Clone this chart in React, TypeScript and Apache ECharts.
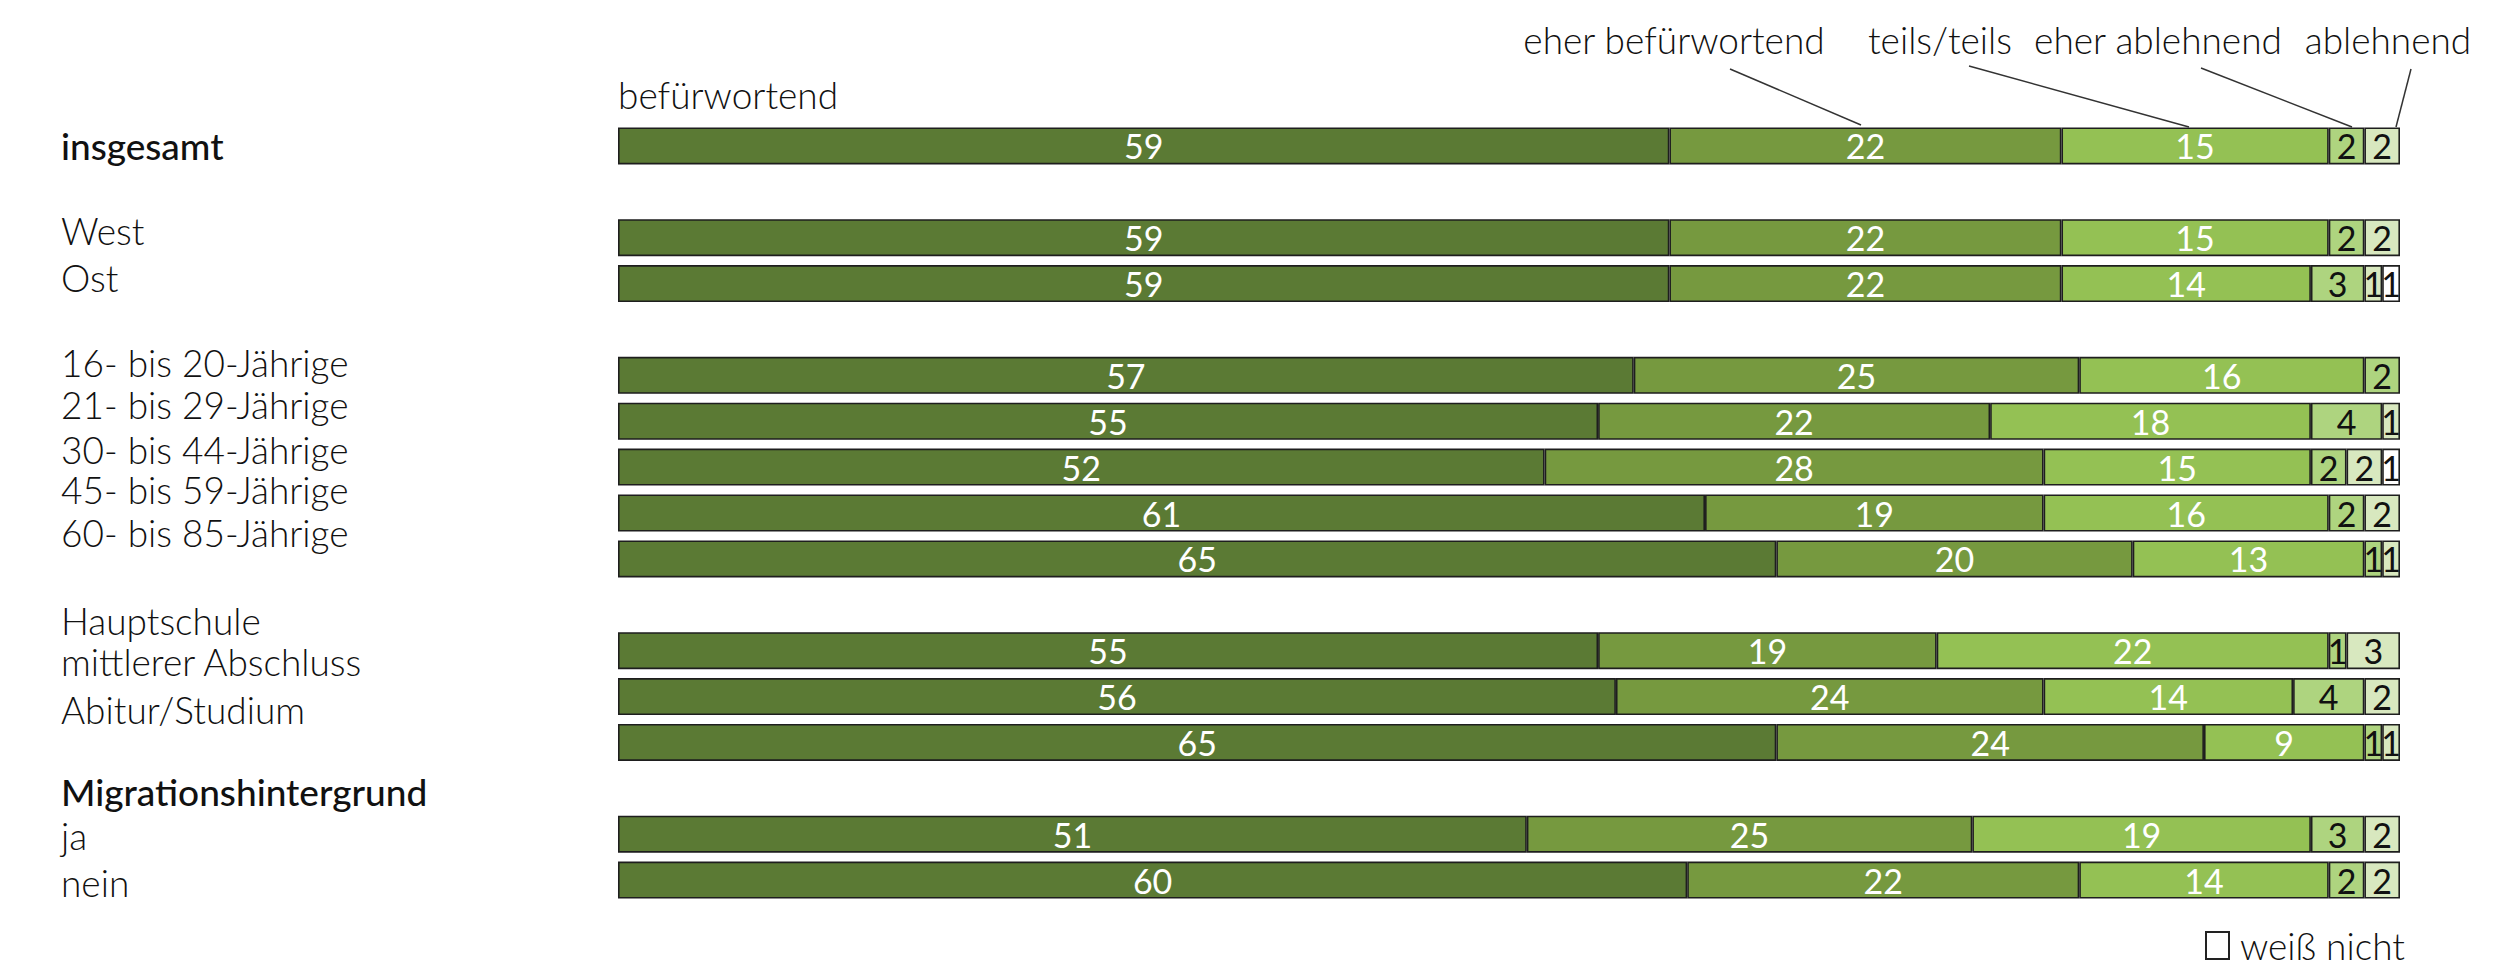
import React, { useEffect, useRef } from "react";
import * as echarts from "echarts";

// Row groups (a blank row separates each group)
const categories = [
  "insgesamt",
  "West", "Ost",
  "16- bis 20-Jährige", "21- bis 29-Jährige", "30- bis 44-Jährige", "45- bis 59-Jährige", "60- bis 85-Jährige",
  "Hauptschule", "mittlerer Abschluss", "Abitur/Studium",
  "ja", "nein",
];
const groupSizes = [1, 2, 5, 3, 2];

const seriesNames = ["befürwortend", "eher befürwortend", "teils/teils", "eher ablehnend", "ablehnend", "weiß nicht"];
const befuerwortend = [59, 59, 59, 57, 55, 52, 61, 65, 55, 56, 65, 51, 60];
const eherBefuerwortend = [22, 22, 22, 25, 22, 28, 19, 20, 19, 24, 24, 25, 22];
const teilsTeils = [15, 15, 14, 16, 18, 15, 16, 13, 22, 14, 9, 19, 14];
const eherAblehnend = [2, 2, 3, 2, 4, 2, 2, 1, 1, 4, 1, 3, 2];
const ablehnend = [2, 2, 1, 0, 1, 2, 2, 1, 3, 2, 1, 2, 2];
const weissNicht = [0, 0, 1, 0, 0, 1, 0, 0, 0, 0, 0, 0, 0];

// Text column on the left (set as a separate block)
const sideLabels = [
  { text: "insgesamt", bold: true },
  { text: "West", bold: false },
  { text: "Ost", bold: false },
  { text: "16- bis 20-Jährige", bold: false },
  { text: "21- bis 29-Jährige", bold: false },
  { text: "30- bis 44-Jährige", bold: false },
  { text: "45- bis 59-Jährige", bold: false },
  { text: "60- bis 85-Jährige", bold: false },
  { text: "Hauptschule", bold: false },
  { text: "mittlerer Abschluss", bold: false },
  { text: "Abitur/Studium", bold: false },
  { text: "Migrationshintergrund", bold: true },
  { text: "ja", bold: false },
  { text: "nein", bold: false },
];
const sideLabelY = [145, 230, 277, 362, 404, 449, 489, 532, 620, 661, 709, 791, 835, 882];

// Headers above the first bar with leader lines
const headerLabels = ["eher befürwortend", "teils/teils", "eher ablehnend", "ablehnend"];
const headerLayout = [
  { cx: 1674, line: [1730, 69, 1861, 125] },
  { cx: 1940, line: [1969, 66, 2189, 127] },
  { cx: 2158, line: [2201, 68, 2352, 127] },
  { cx: 2388, line: [2411, 69, 2396, 127] },
];

const colors = ["#5b7a34", "#76993f", "#94c154", "#aed47f", "#d8e8bf", "#ffffff"];
const labelColors = ["#ffffff", "#ffffff", "#ffffff", "#111111", "#111111", "#111111"];

const FONT = "Lato, 'Open Sans', sans-serif";

function withGaps(values: any[], blank: any) {
  const out: any[] = [];
  let i = 0;
  groupSizes.forEach((size, g) => {
    if (g > 0) out.push(blank);
    for (let k = 0; k < size; k++) out.push(values[i++]);
  });
  return out;
}

export default function App() {
  const ref = useRef<HTMLDivElement>(null);

  useEffect(() => {
    if (!ref.current) return;
    const chart = echarts.init(ref.current, null, { renderer: "svg" });

    const yCats = withGaps(categories, "");
    const allValues = [befuerwortend, eherBefuerwortend, teilsTeils, eherAblehnend, ablehnend, weissNicht];

    const series = allValues.map((vals, s) => ({
      name: seriesNames[s],
      type: "bar",
      stack: "total",
      barWidth: 37,
      data: withGaps(vals.map((v) => (v === 0 ? "-" : v)), "-"),
      itemStyle: { color: colors[s], borderColor: "#1e1e1e", borderWidth: 1.6 },
      label: {
        show: true,
        position: "inside",
        color: labelColors[s],
        fontFamily: FONT,
        fontSize: 34,
        formatter: (p: any) => String(p.value),
      },
    }));

    const graphic: any[] = [];
    sideLabels.forEach((l, i) => {
      graphic.push({
        type: "text",
        x: 61,
        y: sideLabelY[i],
        style: {
          text: l.text,
          fontFamily: FONT,
          fontSize: 37,
          fontWeight: l.bold ? 500 : 300,
          fill: "#111111",
          textAlign: "left",
          textVerticalAlign: "middle",
        },
      });
    });
    graphic.push({
      type: "text",
      x: 618,
      y: 94,
      style: {
        text: seriesNames[0],
        fontFamily: FONT,
        fontSize: 37,
        fontWeight: 300,
        fill: "#111111",
        textAlign: "left",
        textVerticalAlign: "middle",
      },
    });
    headerLabels.forEach((t, i) => {
      const h = headerLayout[i];
      graphic.push({
        type: "text",
        x: h.cx,
        y: 39,
        style: {
          text: t,
          fontFamily: FONT,
          fontSize: 37,
          fontWeight: 300,
          fill: "#111111",
          textAlign: "center",
          textVerticalAlign: "middle",
        },
      });
      graphic.push({
        type: "line",
        shape: { x1: h.line[0], y1: h.line[1], x2: h.line[2], y2: h.line[3] },
        style: { stroke: "#333333", lineWidth: 1.5 },
      });
    });

    chart.setOption({
      animation: false,
      backgroundColor: "#ffffff",
      grid: { left: 618, right: 106, top: 123, bottom: 71, containLabel: false },
      xAxis: { type: "value", min: 0, max: 100, show: false },
      yAxis: {
        type: "category",
        data: yCats,
        inverse: true,
        axisLine: { show: false },
        axisTick: { show: false },
        axisLabel: { show: false },
        splitLine: { show: false },
      },
      legend: {
        data: ["weiß nicht"],
        left: 2200,
        top: 922,
        icon: "rect",
        itemWidth: 23,
        itemHeight: 27,
        itemGap: 10,
        itemStyle: { color: "#ffffff", borderColor: "#222222", borderWidth: 2 },
        textStyle: { fontFamily: FONT, fontSize: 37, fontWeight: 300, color: "#111111", padding: [0, 0, 0, 6] },
        selectedMode: false,
      },
      series,
      graphic,
    });

    return () => chart.dispose();
  }, []);

  return (
    <div
      ref={ref}
      style={{ position: "fixed", left: 0, top: 0, width: 2506, height: 974, background: "#ffffff" }}
    />
  );
}
